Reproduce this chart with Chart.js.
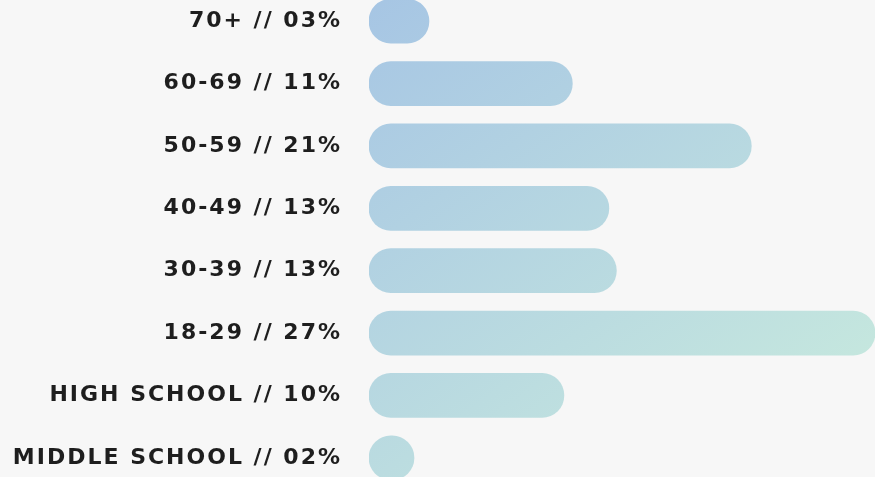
<!DOCTYPE html>
<html>
<head>
<meta charset="utf-8">
<script src="https://cdn.jsdelivr.net/npm/chart.js@4"></script>
<style>
  html, body { margin: 0; padding: 0; background: #f7f7f7; overflow: hidden; }
  #wrap { position: absolute; left: 0; top: -10px; width: 875px; height: 499px; }
</style>
</head>
<body>
<div id="wrap"><canvas id="barras"></canvas></div>
<script>
// age groups / education, shares in percent
const groups = ['70+', '60-69', '50-59', '40-49', '30-39', '18-29', 'HIGH SCHOOL', 'MIDDLE SCHOOL'];
const shareLabels = ['03%', '11%', '21%', '13%', '13%', '27%', '10%', '02%'];
const shares = [3.2, 10.85, 20.4, 12.8, 13.2, 27, 10.4, 2.4];

const labels = groups.map((g, i) => g + ' // ' + shareLabels[i]);

function barGradient(context) {
    const chart = context.chart;
    const area = chart.chartArea;
    if (!area) return '#b4d4e2';
    const g = chart.ctx.createLinearGradient(area.left, area.top, area.left + area.width * 0.7, area.bottom);
    g.addColorStop(0, '#a6c5e4');
    g.addColorStop(1, '#c6e8de');
    return g;
}

// wider lettering for the labels
const spacing = {
    id: 'spacing',
    beforeDraw(chart) { chart.ctx.letterSpacing = '2px'; },
    afterDraw(chart) { chart.ctx.letterSpacing = '0px'; }
};

document.addEventListener('DOMContentLoaded', function () {
    let ctx = document.getElementById('barras').getContext('2d');
    new Chart(ctx, {
        type: 'bar',
        data: {
            labels: labels,
            datasets: [{
                data: shares,
                backgroundColor: barGradient,
                borderRadius: 22,
                borderSkipped: false,
                barThickness: 44
            }]
        },
        options: {
            indexAxis: 'y',
            responsive: true,
            maintainAspectRatio: false,
            animation: false,
            layout: { padding: 0 },
            plugins: { legend: { display: false }, tooltip: { enabled: false } },
            scales: {
                x: { display: false, min: 0, max: 27 },
                y: {
                    grid: { display: false, drawTicks: false },
                    border: { display: false },
                    ticks: {
                        padding: 27,
                        color: '#1e1e1e',
                        font: { family: 'DejaVu Sans', size: 22, weight: 'bold' }
                    },
                    afterFit: function (scale) {
                        scale.width = 369;
                        scale.paddingTop = 0;
                        scale.paddingBottom = 0;
                    }
                }
            }
        },
        plugins: [spacing]
    });
});
</script>
</body>
</html>
